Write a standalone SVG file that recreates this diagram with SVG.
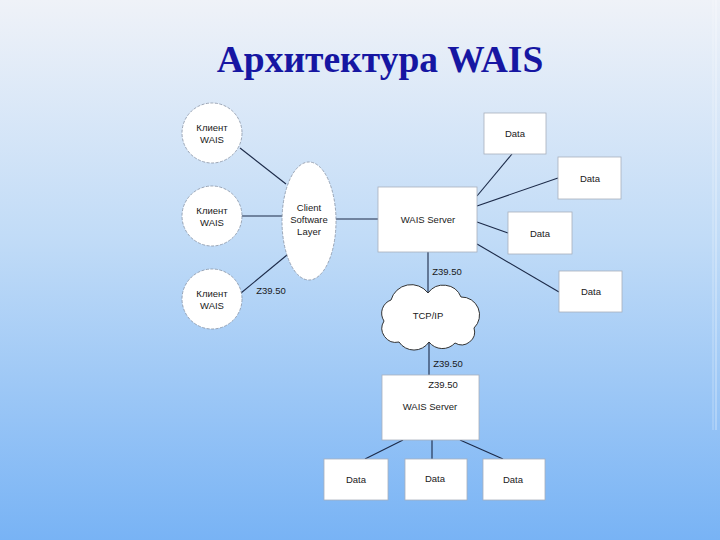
<svg xmlns="http://www.w3.org/2000/svg" width="720" height="540" viewBox="0 0 720 540">
<defs>
<linearGradient id="bg" x1="0" y1="0" x2="0" y2="1">
<stop offset="0" stop-color="#eff2f8"/>
<stop offset="0.45" stop-color="#c0dbf7"/>
<stop offset="1" stop-color="#78b3f5"/>
</linearGradient>
<style>
.t{font-family:"Liberation Sans",Arial,sans-serif;font-size:9.5px;fill:#1a1a1a;text-anchor:middle}
.node{fill:#fff;stroke:#a8b0bc;stroke-width:0.8}
.rnd{fill:#fff;stroke:#8a94a4;stroke-width:0.8;stroke-dasharray:3 1.5}
.ln{stroke:#1c2a48;stroke-width:1.1;fill:none}
.title{font-family:"Liberation Serif","Times New Roman",serif;font-weight:bold;font-size:37.5px;fill:#1616a2;text-anchor:middle}
</style>
</defs>
<rect width="720" height="540" fill="url(#bg)"/>
<line x1="713" y1="0" x2="713" y2="430" stroke="#ffffff" stroke-opacity="0.35"/>
<line x1="716" y1="0" x2="716" y2="430" stroke="#ffffff" stroke-opacity="0.5"/>
<text class="title" x="380" y="72">Архитектура WAIS</text>

<g id="connectors">
<line class="ln" x1="240" y1="148" x2="286" y2="184"/>
<line class="ln" x1="242" y1="216" x2="283" y2="216"/>
<line class="ln" x1="241" y1="293" x2="287" y2="255"/>
<line class="ln" x1="336" y1="219" x2="378" y2="219"/>
<line class="ln" x1="477" y1="196" x2="512" y2="154"/>
<line class="ln" x1="477" y1="206" x2="558" y2="178"/>
<line class="ln" x1="477" y1="222" x2="508" y2="233"/>
<line class="ln" x1="477" y1="244" x2="559" y2="292"/>
<line class="ln" x1="428" y1="252" x2="428" y2="293"/>
<line class="ln" x1="429" y1="342" x2="429" y2="375"/>
<line class="ln" x1="403" y1="440" x2="365" y2="459"/>
<line class="ln" x1="432" y1="440" x2="432" y2="459"/>
<line class="ln" x1="460" y1="440" x2="503" y2="459"/>
<text class="t" x="271" y="294">Z39.50</text>
<text class="t" x="447" y="275">Z39.50</text>
<text class="t" x="448" y="367">Z39.50</text>
</g>

<g id="client1"><circle class="rnd" cx="212" cy="133" r="30"/><text class="t" x="212" y="131">Клиент</text><text class="t" x="212" y="143">WAIS</text></g>
<g id="client2"><circle class="rnd" cx="212" cy="216" r="30"/><text class="t" x="212" y="214">Клиент</text><text class="t" x="212" y="226">WAIS</text></g>
<g id="client3"><circle class="rnd" cx="212" cy="299" r="30"/><text class="t" x="212" y="297">Клиент</text><text class="t" x="212" y="309">WAIS</text></g>

<g id="client-software-layer"><ellipse class="rnd" cx="309" cy="221" rx="27" ry="59"/>
<text class="t" x="309" y="211">Client</text><text class="t" x="309" y="223">Software</text><text class="t" x="309" y="235">Layer</text></g>

<g id="wais-server-1"><rect class="node" x="378" y="187" width="99" height="65"/><text class="t" x="428" y="223">WAIS Server</text></g>

<g id="data1"><rect class="node" x="484" y="113" width="62" height="41"/><text class="t" x="515" y="137">Data</text></g>
<g id="data2"><rect class="node" x="558" y="157" width="63" height="42"/><text class="t" x="590" y="182">Data</text></g>
<g id="data3"><rect class="node" x="508" y="212" width="64" height="42"/><text class="t" x="540" y="237">Data</text></g>
<g id="data4"><rect class="node" x="559" y="271" width="63" height="41"/><text class="t" x="591" y="295">Data</text></g>

<g id="tcpip">
<path d="M391,300 A21,21 0 0 1 428,293 A19,19 0 0 1 461,297 A18,18 0 0 1 474,328 A13,13 0 0 1 455,343 A17,17 0 0 1 429,342 A18,18 0 0 1 399,342 A14,14 0 0 1 384,321 A14,14 0 0 1 391,300 Z" fill="#fff" stroke="#333" stroke-width="1"/>
<text class="t" x="428" y="319">TCP/IP</text>
</g>

<g id="wais-server-2"><rect class="node" x="382" y="375" width="97" height="65"/><text class="t" x="443" y="388">Z39.50</text><text class="t" x="430" y="410">WAIS Server</text></g>

<g id="data5"><rect class="node" x="324" y="459" width="64" height="41"/><text class="t" x="356" y="483">Data</text></g>
<g id="data6"><rect class="node" x="405" y="459" width="62" height="41"/><text class="t" x="435" y="482">Data</text></g>
<g id="data7"><rect class="node" x="483" y="459" width="62" height="41"/><text class="t" x="513" y="483">Data</text></g>
</svg>
